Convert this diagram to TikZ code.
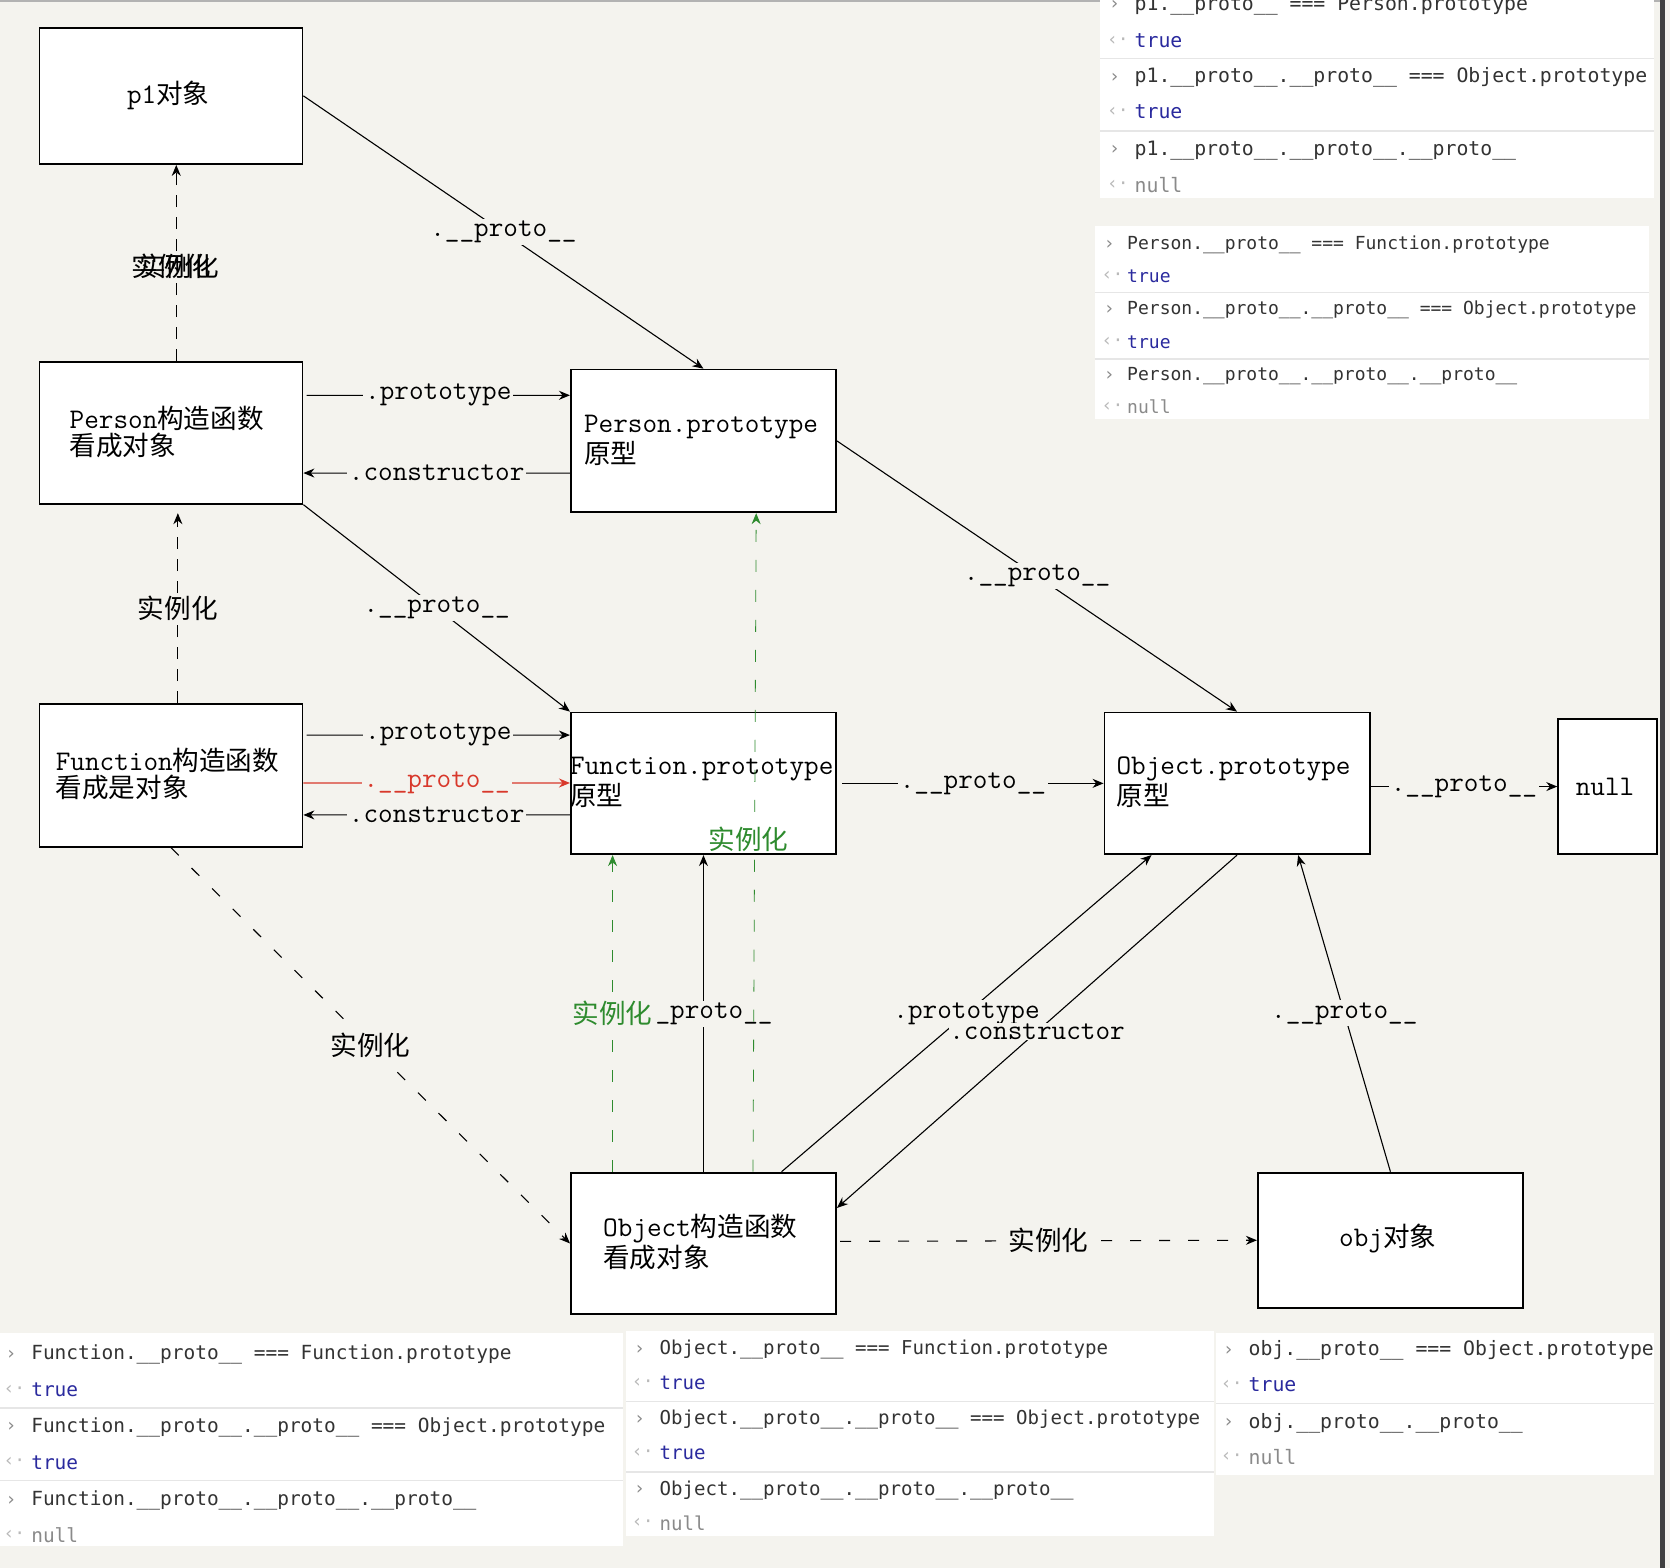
\documentclass[tikz,border=0pt]{standalone}
\usepackage{fontspec}
\newfontfamily\cjkfont{Noto Sans CJK SC}
\newfontfamily\consfont{DejaVu Sans Mono}
\usetikzlibrary{arrows.meta,calc,fit}
\definecolor{bg}{HTML}{F4F3EE}
\definecolor{ggreen}{HTML}{2E8B2E}
\definecolor{rred}{HTML}{D8382B}
\definecolor{tblue}{HTML}{2A2A9E}
\definecolor{ctext}{HTML}{333333}
\definecolor{cgray}{HTML}{8A8A8A}
\definecolor{sepc}{HTML}{E6E6E6}
\newcommand{\zhs}[1]{{\cjkfont\fontsize{13.3}{13.3}\selectfont #1}}
\newcommand{\prt}{.\_\_proto\_\_}
\newcommand{\us}{\_\_proto\_\_}
\begin{document}
\begin{tikzpicture}[x={(0.53255pt,0)},y={(0,-0.53255pt)},
  box/.style={draw=black, line width=0.9pt, fill=white, inner sep=0pt},
  txt/.style={font=\ttfamily\fontsize{14.2}{13.3}\selectfont, inner sep=0pt, align=left, text=black},
  con/.style={line width=0.55pt, -{Stealth[length=5.5pt,width=4.5pt]}},
  lbl/.style={font=\ttfamily\fontsize{14.2}{14}\selectfont, fill=bg, inner sep=1pt, text=black},
  zl/.style={fill=bg, inner sep=1pt, text=black},
  dsh/.style={dash pattern=on 5.5pt off 9pt},
  vdsh/.style={dash pattern=on 6pt off 5pt},
  gdsh/.style={draw=ggreen, dash pattern=on 6pt off 9pt, -{Stealth[length=5.5pt,width=4.5pt,fill=ggreen]}},
  cons/.style={anchor=west, inner sep=0pt, text=ctext},
  cmk/.style={anchor=west, inner sep=0pt, text=cgray, font=\consfont\fontsize{9}{9}\selectfont},
  rmk/.style={anchor=west, inner sep=0pt, text=cgray!60, font=\consfont\fontsize{9}{9}\selectfont},
  sep/.style={draw=sepc, line width=0.6pt}
]
\useasboundingbox (0,0) rectangle (1568,1472);
\clip (0,0) rectangle (1568,1472);
\fill[bg] (0,0) rectangle (1568,1472);
\draw[gray!60, line width=1.2pt] (0,1) -- (1563,1);
\fill[black!75] (1559,0) rectangle (1563,1472);

% ---------- console panels ----------
\fill[white] (1033,0) rectangle (1553,186);
\draw[sep] (1033,55) -- (1553,55);
\draw[sep] (1033,123) -- (1553,123);
\fill[white] (1028,212) rectangle (1548,393);
\draw[sep] (1028,275) -- (1548,275);
\draw[sep] (1028,337) -- (1548,337);
\fill[white] (0,1252) rectangle (585,1452);
\draw[sep] (0,1322) -- (585,1322);
\draw[sep] (0,1390) -- (585,1390);
\fill[white] (588,1250) rectangle (1140,1442);
\draw[sep] (588,1316) -- (1140,1316);
\draw[sep] (588,1382) -- (1140,1382);
\fill[white] (1142,1252) rectangle (1553,1385);
\draw[sep] (1142,1318) -- (1553,1318);

% top right panel
\begin{scope}[every node/.append style={font=\consfont\fontsize{9.9}{10}\selectfont}]
\node[cmk] (ta1) at (1041,5) {›};
\node[cons] (tb1) at (1065,5) {p1.\us{} === Person.prototype};
\node[rmk] (ta2) at (1039,38) {‹·};
\node[cons,text=tblue] (tb2) at (1065,38) {true};
\node[cmk] (ta3) at (1041,73) {›};
\node[cons] (tb3) at (1065,73) {p1.\us.\us{} === Object.prototype};
\node[rmk] (ta4) at (1039,105) {‹·};
\node[cons,text=tblue] (tb4) at (1065,105) {true};
\node[cmk] (ta5) at (1041,141) {›};
\node[cons] (tb5) at (1065,141) {p1.\us.\us.\us};
\node[rmk] (ta6) at (1039,174) {‹·};
\node[cons,text=cgray] (tb6) at (1065,174) {null};
\end{scope}

% Person panel
\begin{scope}[every node/.append style={font=\consfont\fontsize{9.0}{9}\selectfont}]
\node[cmk] (pa1) at (1036,230) {›};
\node[cons] (pb1) at (1058,230) {Person.\us{} === Function.prototype};
\node[rmk] (pa2) at (1034,259) {‹·};
\node[cons,text=tblue] (pb2) at (1058,259) {true};
\node[cmk] (pa3) at (1036,291) {›};
\node[cons] (pb3) at (1058,291) {Person.\us.\us{} === Object.prototype};
\node[rmk] (pa4) at (1034,321) {‹·};
\node[cons,text=tblue] (pb4) at (1058,321) {true};
\node[cmk] (pa5) at (1036,353) {›};
\node[cons] (pb5) at (1058,353) {Person.\us.\us.\us};
\node[rmk] (pa6) at (1034,382) {‹·};
\node[cons,text=cgray] (pb6) at (1058,382) {null};
\end{scope}

% bottom left panel
\begin{scope}[every node/.append style={font=\consfont\fontsize{9.73}{10}\selectfont}]
\node[cmk] (la1) at (5,1272) {›};
\node[cons] (lb1) at (29,1272) {Function.\us{} === Function.prototype};
\node[rmk] (la2) at (3,1305) {‹·};
\node[cons,text=tblue] (lb2) at (29,1305) {true};
\node[cmk] (la3) at (5,1340) {›};
\node[cons] (lb3) at (29,1340) {Function.\us.\us{} === Object.prototype};
\node[rmk] (la4) at (3,1373) {‹·};
\node[cons,text=tblue] (lb4) at (29,1373) {true};
\node[cmk] (la5) at (5,1409) {›};
\node[cons] (lb5) at (29,1409) {Function.\us.\us.\us};
\node[rmk] (la6) at (3,1441) {‹·};
\node[cons,text=cgray] (lb6) at (29,1441) {null};
\end{scope}

% bottom middle panel
\begin{scope}[every node/.append style={font=\consfont\fontsize{9.55}{10}\selectfont}]
\node[cmk] (ma1) at (595,1267) {›};
\node[cons] (mb1) at (619,1267) {Object.\us{} === Function.prototype};
\node[rmk] (ma2) at (593,1298) {‹·};
\node[cons,text=tblue] (mb2) at (619,1298) {true};
\node[cmk] (ma3) at (595,1333) {›};
\node[cons] (mb3) at (619,1333) {Object.\us.\us{} === Object.prototype};
\node[rmk] (ma4) at (593,1364) {‹·};
\node[cons,text=tblue] (mb4) at (619,1364) {true};
\node[cmk] (ma5) at (595,1399) {›};
\node[cons] (mb5) at (619,1399) {Object.\us.\us.\us};
\node[rmk] (ma6) at (593,1430) {‹·};
\node[cons,text=cgray] (mb6) at (619,1430) {null};
\end{scope}

% bottom right panel
\begin{scope}[every node/.append style={font=\consfont\fontsize{9.9}{10}\selectfont}]
\node[cmk] (ra1) at (1148,1268) {›};
\node[cons] (rb1) at (1172,1268) {obj.\us{} === Object.prototype};
\node[rmk] (ra2) at (1146,1300) {‹·};
\node[cons,text=tblue] (rb2) at (1172,1300) {true};
\node[cmk] (ra3) at (1148,1336) {›};
\node[cons] (rb3) at (1172,1336) {obj.\us.\us};
\node[rmk] (ra4) at (1146,1368) {‹·};
\node[cons,text=cgray] (rb4) at (1172,1368) {null};
\end{scope}

% ---------- boxes ----------
\node[box, fit={(37,26) (284,154)}] (p1) {};
\node[box, fit={(37,340) (284,473)}] (pc) {};
\node[box, fit={(536,347) (785,481)}] (pp) {};
\node[box, fit={(37,661) (284,795)}] (fc) {};
\node[box, fit={(536,669) (785,802)}] (fp) {};
\node[box, fit={(1037,669) (1286,802)}] (op) {};
\node[box, fit={(1463,675) (1556,802)}] (nl) {};
\node[box, fit={(536,1101) (785,1234)}] (oc) {};
\node[box, fit={(1181,1101) (1430,1228)}] (ob) {};

\node[txt] (p1t) at (158,90) {p1\zhs{对象}};
\node[txt, anchor=west] (pct) at (65,405.5) {Person\zhs{构造函数}\\\zhs{看成对象}};
\node[txt, anchor=west] (ppt) at (548,413.5) {Person.prototype\\\zhs{原型}};
\node[txt, anchor=west] (fct) at (52,726.5) {Function\zhs{构造函数}\\\zhs{看成是对象}};
\node[txt, anchor=west] (fpt) at (535,734.5) {Function.prototype\\\zhs{原型}};
\node[txt, anchor=west] (opt) at (1048,734.5) {Object.prototype\\\zhs{原型}};
\node[txt] (nlt) at (1507,739) {null};
\node[txt, anchor=west] (oct) at (566,1166.5) {Object\zhs{构造函数}\\\zhs{看成对象}};
\node[txt] (obt) at (1303,1163) {obj\zhs{对象}};

% ---------- connectors ----------
\draw[con] (p1.east) -- node[lbl]{\prt} (pp.north);
\draw[con,vdsh] ($(pc.north)+(5,0)$) -- ($(p1.south)+(5,0)$);
\node[zl] (l1a) at (161,250) {\zhs{实例化}};
\node[zl, fill=none] (l1b) at (168,250) {\zhs{实例化}};

\draw[con] ($(pc.north east)+(3,32)$) -- node[lbl]{.prototype} ($(pp.north west)+(0,25)$);
\draw[con] ($(pp.north west)+(0,98)$) -- node[lbl]{.constructor} ($(pc.north east)+(0,105)$);
\draw[con] (pc.south east) -- node[lbl]{\prt} (fp.north west);
\draw[con,vdsh] ($(fc.north)+(6.5,0)$) -- node[zl]{\zhs{实例化}} ($(pc.south)+(6.5,8)$);
\draw[con] (pp.east) -- node[lbl]{\prt} (op.north);

\draw[con] ($(fc.north east)+(3,30)$) -- node[lbl]{.prototype} ($(fp.north west)+(0,22)$);
\draw[con,draw=rred,-{Stealth[length=5.5pt,width=4.5pt,fill=rred]}] ($(fc.north east)+(0,75)$) -- node[lbl,text=rred]{\prt} ($(fp.north west)+(0,67)$);
\draw[con] ($(fp.north west)+(0,97)$) -- node[lbl]{.constructor} ($(fc.north east)+(0,105)$);
\draw[con] ($(fp.east)+(5,0)$) -- node[lbl]{\prt} (op.west);
\draw[con] (op.east |- nl.west) -- node[lbl]{\prt} (nl.west);

\draw[con,dsh] (fc.south) -- node[zl]{\zhs{实例化}} (oc.west);
\draw[con] (oc.north) -- node[lbl,pos=0.498,xshift=-2pt]{\prt} (fp.south);
\draw[gdsh] ($(oc.north west)+(40,0)$) -- node[zl,text=ggreen]{\zhs{实例化}} ($(fp.south west)+(40,0)$);
\draw[gdsh] ($(oc.north)+(46.5,0)$) -- node[zl,fill=white,inner sep=0pt,text=ggreen,pos=0.505,xshift=-3pt]{\zhs{实例化}} ($(pp.south)+(49.5,0)$);

\draw[con] ($(oc.north east)+(-52,0)$) -- node[lbl]{.prototype} ($(op.south west)+(45,0)$);
\draw[con] (op.south) -- node[lbl,inner sep=0.3pt]{.constructor} ($(oc.north east)+(0,34)$);
\draw[con] (ob.north) -- node[lbl]{\prt} ($(op.south east)+(-68,0)$);
\draw[con,dsh] ($(oc.east)+(3,-2)$) -- node[zl]{\zhs{实例化}} (ob.west);
\end{tikzpicture}
\end{document}
